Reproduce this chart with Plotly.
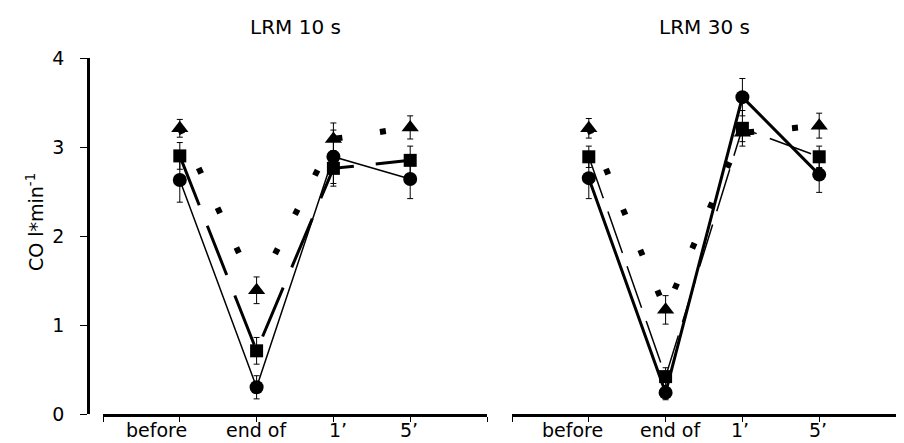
import plotly.graph_objects as go

# ---------------- data ----------------
categories = ["before", "end of", "1’", "5’"]
panel_titles = ["LRM 10 s", "LRM 30 s"]
y_ticks = [0, 1, 2, 3, 4]

# LRM 10 s
tri_10 = [3.21, 1.39, 3.09, 3.22]
tri_10_sd = [0.10, 0.15, 0.18, 0.13]
sq_10 = [2.90, 0.71, 2.76, 2.85]
sq_10_sd = [0.15, 0.15, 0.20, 0.16]
ci_10 = [2.63, 0.30, 2.89, 2.64]
ci_10_sd = [0.25, 0.13, 0.30, 0.22]

# LRM 30 s
tri_30 = [3.21, 1.17, 3.16, 3.24]
tri_30_sd = [0.11, 0.16, 0.10, 0.14]
sq_30 = [2.89, 0.42, 3.21, 2.89]
sq_30_sd = [0.12, 0.10, 0.20, 0.12]
ci_30 = [2.65, 0.24, 3.56, 2.69]
ci_30_sd = [0.23, 0.08, 0.21, 0.20]

# ---------------- layout helpers ----------------
W, H = 904, 443
FONT = "DejaVu Sans"
OFF = 8  # page body margin offset of the rendered div


def px_x(p):
    return (p - OFF) / W


def px_y(p):
    return (H - (p - OFF)) / H


xpos = list(range(1, len(categories) + 1))

fig = go.Figure()


def add_panel(xa, ya, tri, tri_sd, sq, sq_sd, ci, ci_sd, sq_style, ci_width):
    err = dict(type="data", color="black", thickness=1, width=3)
    fig.add_trace(go.Scatter(
        x=xpos, y=tri, xaxis=xa, yaxis=ya, mode="lines+markers",
        line=dict(color="black", width=6, dash="6px,38px"),
        marker=dict(symbol="triangle-up", size=15, color="black"),
        error_y=dict(array=tri_sd, **err), showlegend=False, hoverinfo="skip"))
    fig.add_trace(go.Scatter(
        x=xpos, y=sq, xaxis=xa, yaxis=ya, mode="lines+markers",
        line=sq_style,
        marker=dict(symbol="square", size=13, color="black"),
        error_y=dict(array=sq_sd, **err), showlegend=False, hoverinfo="skip"))
    fig.add_trace(go.Scatter(
        x=xpos, y=ci, xaxis=xa, yaxis=ya, mode="lines+markers",
        line=dict(color="black", width=ci_width),
        marker=dict(symbol="circle", size=14, color="black"),
        error_y=dict(array=ci_sd, **err), showlegend=False, hoverinfo="skip"))


add_panel("x", "y", tri_10, tri_10_sd, sq_10, sq_10_sd, ci_10, ci_10_sd,
          dict(color="black", width=3, dash="53px,22px"), 1.5)
add_panel("x2", "y2", tri_30, tri_30_sd, sq_30, sq_30_sd, ci_30, ci_30_sd,
          dict(color="black", width=1.5, dash="44px,14px"), 3)

ydom = [px_y(414), px_y(58)]
xdom1 = [px_x(103), px_x(487)]
xdom2 = [px_x(512), px_x(896)]

xaxis_common = dict(
    range=[0, 5], tickvals=[0, 1, 2, 3, 4, 5], showticklabels=False,
    ticks="outside", ticklen=5, tickwidth=1, tickcolor="black",
    showline=True, linecolor="black", linewidth=2.5,
    showgrid=False, zeroline=False, fixedrange=True, automargin=False,
)

fig.update_layout(
    width=W, height=H, autosize=False,
    margin=dict(l=0, r=0, t=0, b=0, pad=0, autoexpand=False),
    paper_bgcolor="white", plot_bgcolor="white",
    font=dict(family=FONT, color="black", size=19),
    xaxis=dict(domain=xdom1, anchor="y", **xaxis_common),
    xaxis2=dict(domain=xdom2, anchor="y2", **xaxis_common),
    yaxis=dict(domain=ydom, range=[0, 4], anchor="free", position=px_x(88),
               tickvals=y_ticks, ticktext=[str(v) for v in y_ticks],
               ticks="outside", ticklen=7, tickwidth=1, tickcolor="black",
               ticklabelstandoff=12, automargin=False,
               tickfont=dict(family=FONT, size=19),
               showline=True, linecolor="black", linewidth=2.5,
               showgrid=False, zeroline=False, fixedrange=True),
    yaxis2=dict(domain=ydom, range=[0, 4], anchor="x2", visible=False,
                automargin=False,
                showgrid=False, zeroline=False, fixedrange=True),
)

annotations = []
# panel titles
for title, dom in zip(panel_titles, [xdom1, xdom2]):
    annotations.append(dict(text=title, x=(dom[0] + dom[1]) / 2, y=px_y(27),
                            xref="paper", yref="paper", showarrow=False,
                            xanchor="center", yanchor="middle",
                            font=dict(family=FONT, size=20)))
# category labels under each panel
label_shift = {"x": [-23, 0, 5, -1], "x2": [-16, 5, -2, -1]}
for xa in ["x", "x2"]:
    for i, cat in enumerate(categories):
        annotations.append(dict(text=cat, x=xpos[i], y=px_y(430),
                                xref=xa, yref="paper", showarrow=False,
                                xanchor="center", yanchor="middle",
                                xshift=label_shift[xa][i],
                                font=dict(family=FONT, size=19)))
# y axis title
annotations.append(dict(text="CO l*min<sup>-1</sup>", x=px_x(35), y=px_y(222),
                        xref="paper", yref="paper", showarrow=False,
                        textangle=-90, xanchor="center", yanchor="middle",
                        font=dict(family=FONT, size=19)))
fig.update_layout(annotations=annotations)

fig.write_html("out.html")
